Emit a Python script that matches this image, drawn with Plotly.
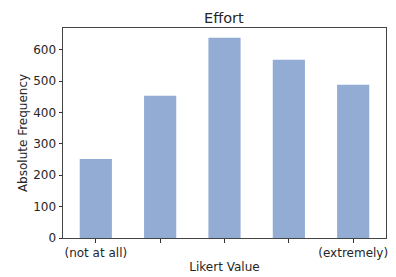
import plotly.graph_objects as go

categories = [1, 2, 3, 4, 5]
tick_labels = ["(not at all)", "", "", "", "(extremely)"]
frequencies = [252, 453, 638, 568, 488]

fig = go.Figure()
fig.add_trace(go.Bar(
    x=categories, y=frequencies, width=0.5,
    marker=dict(color="#92acd4", line=dict(width=0)),
))

font = dict(family="DejaVu Sans", size=12, color="#262626")
fig.update_layout(
    width=396, height=277,
    margin=dict(l=63, r=10, t=28, b=39),
    paper_bgcolor="white", plot_bgcolor="white",
    showlegend=False,
    font=font,
    title=dict(text="Effort", x=0.5655, xanchor="center", y=0.937, yanchor="middle",
               font=dict(family="DejaVu Sans", size=14.5, color="#262626")),
)
fig.update_xaxes(
    range=[0.49, 5.51],
    tickvals=categories, ticktext=tick_labels,
    ticks="outside", ticklen=3.5, tickwidth=1, tickcolor="#333",
    showline=True, linecolor="#444", linewidth=1, mirror=True,
    showgrid=False, zeroline=False, automargin=False,
    ticklabeloverflow="allow",
    tickfont=font,
    title=dict(text="Likert Value", font=font, standoff=3),
)
fig.update_yaxes(
    range=[0, 669],
    tickvals=[0, 100, 200, 300, 400, 500, 600],
    ticks="outside", ticklen=3.5, tickwidth=1, tickcolor="#333",
    showline=True, linecolor="#444", linewidth=1, mirror=True,
    showgrid=False, zeroline=False, automargin=False,
    tickfont=font,
    title=dict(text="Absolute Frequency", font=font, standoff=2),
)
fig.write_html("out.html", config={"displayModeBar": False},
               post_script="document.body.style.margin='0';")
